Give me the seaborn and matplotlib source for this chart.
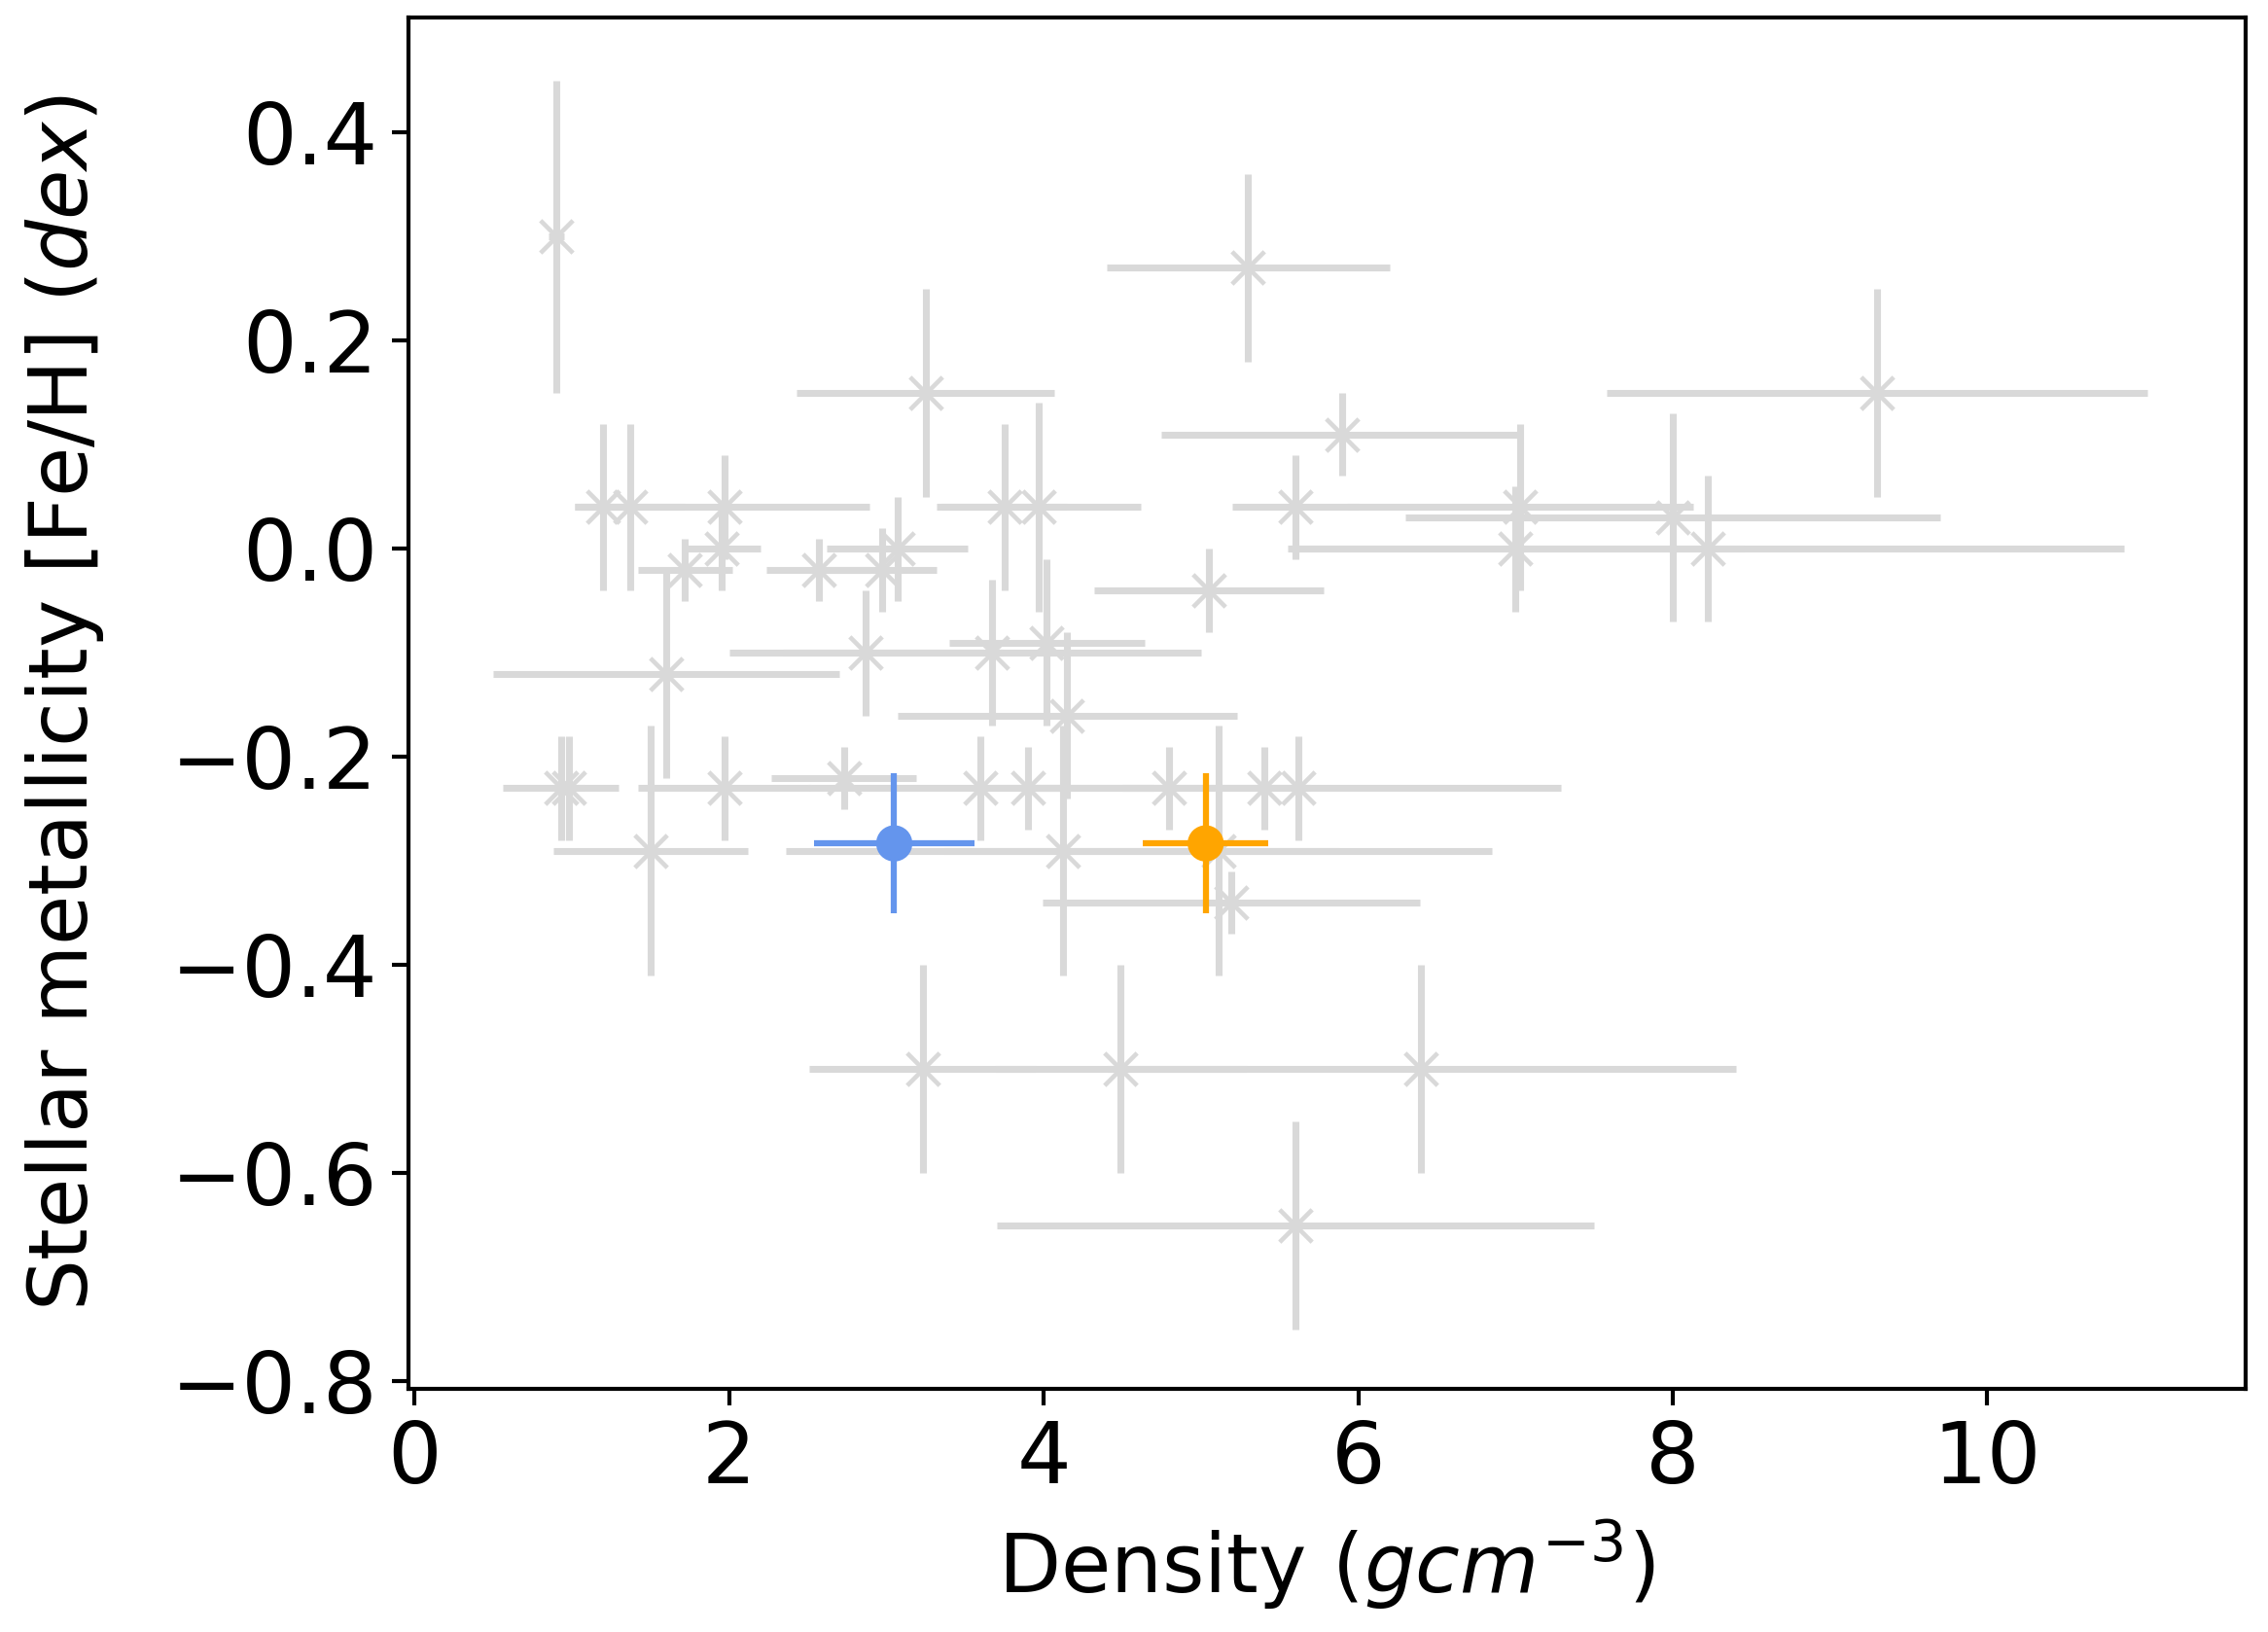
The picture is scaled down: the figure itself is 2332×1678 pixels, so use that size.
import matplotlib
matplotlib.use("Agg")
import matplotlib.pyplot as plt
import pandas as pd
import seaborn as sns

# comparison sample (grey)
density = [0.90, 5.30, 3.25, 9.30, 5.90,
           1.20, 1.37, 1.97, 3.75, 3.97, 5.60, 7.03, 8.00, 8.22, 7.00,
           1.72, 1.95, 2.57, 2.97, 3.07, 5.05,
           1.60, 2.87, 3.67, 4.02, 4.15,
           0.93, 0.98, 2.73, 1.97, 3.60, 3.90, 4.80, 5.40, 5.62,
           1.50, 4.12, 5.11, 5.19,
           3.23, 4.49, 6.40, 5.60]
density_err = [0.05, 0.90, 0.82, 1.72, 1.15,
               0.18, 0.35, 0.92, 0.40, 0.65, 0.40, 1.10, 1.70, 2.65, 1.45,
               0.30, 0.25, 0.33, 0.35, 0.45, 0.73,
               1.10, 0.87, 1.33, 0.62, 1.08,
               0.37, 0.10, 0.46, 0.55, 1.10, 0.25, 0.30, 0.30, 1.67,
               0.62, 1.76, 1.74, 1.20,
               0.72, 0.80, 2.00, 1.90]
feh = [0.30, 0.27, 0.15, 0.15, 0.11,
       0.04, 0.04, 0.04, 0.04, 0.04, 0.04, 0.04, 0.03, 0.00, 0.00,
       -0.02, 0.00, -0.02, -0.02, 0.00, -0.04,
       -0.12, -0.10, -0.10, -0.09, -0.16,
       -0.23, -0.23, -0.22, -0.23, -0.23, -0.23, -0.23, -0.23, -0.23,
       -0.29, -0.29, -0.29, -0.34,
       -0.50, -0.50, -0.50, -0.65]
feh_err = [0.15, 0.09, 0.10, 0.10, 0.04,
           0.08, 0.08, 0.05, 0.08, 0.10, 0.05, 0.08, 0.10, 0.07, 0.06,
           0.03, 0.04, 0.03, 0.04, 0.05, 0.04,
           0.10, 0.06, 0.07, 0.08, 0.08,
           0.05, 0.05, 0.03, 0.05, 0.05, 0.04, 0.04, 0.04, 0.05,
           0.12, 0.12, 0.12, 0.03,
           0.10, 0.10, 0.10, 0.10]

# highlighted targets
target_names = ["blue", "orange"]
target_density = [3.05, 5.03]
target_density_err = [0.51, 0.40]
target_feh = [-0.283, -0.283]
target_feh_err = [0.067, 0.067]
target_colors = ["#6495ed", "#ffa500"]

grey = "#d9d9d9"

sns.set_style("ticks")
plt.rcParams["font.family"] = ["DejaVu Sans"]
plt.rcParams["mathtext.fontset"] = "dejavusans"
plt.rcParams["text.color"] = "black"
plt.rcParams["axes.labelcolor"] = "black"
plt.rcParams["xtick.color"] = "black"
plt.rcParams["ytick.color"] = "black"

fig = plt.figure(figsize=(2332 / 300, 1678 / 300), dpi=300)
ax = fig.add_axes([0.180, 0.149, 0.810, 0.840])

df = pd.DataFrame({"density": density, "feh": feh})
ax.errorbar(density, feh, xerr=density_err, yerr=feh_err, fmt="none",
            ecolor=grey, elinewidth=1.7, capsize=0, zorder=1)
sns.scatterplot(data=df, x="density", y="feh", marker="x", color=grey,
                s=64, linewidth=1.1, ax=ax, zorder=2)

df_t = pd.DataFrame({"density": target_density, "feh": target_feh, "name": target_names})
for i in range(len(target_names)):
    ax.errorbar(target_density[i], target_feh[i], xerr=target_density_err[i],
                yerr=target_feh_err[i], fmt="none", ecolor=target_colors[i],
                elinewidth=1.5, capsize=0, zorder=3)
sns.scatterplot(data=df_t, x="density", y="feh", hue="name", palette=target_colors,
                s=80, linewidth=0, legend=False, ax=ax, zorder=4)

ax.set_xlim(-0.04, 11.64)
ax.set_ylim(-0.807, 0.51)
ax.set_xticks([0, 2, 4, 6, 8, 10])
ax.set_yticks([-0.8, -0.6, -0.4, -0.2, 0.0, 0.2, 0.4])
ax.tick_params(labelsize=21, length=4, width=1, colors="black")
for side in ax.spines.values():
    side.set_linewidth(1.0)
    side.set_color("black")
    side.set_visible(True)

ax.set_xlabel("Density ($gcm^{-3}$)", fontsize=20, labelpad=4)
ax.set_ylabel("Stellar metallicity [Fe/H] ($dex$)", fontsize=20, labelpad=16)

fig.savefig("out.png", dpi=300)
